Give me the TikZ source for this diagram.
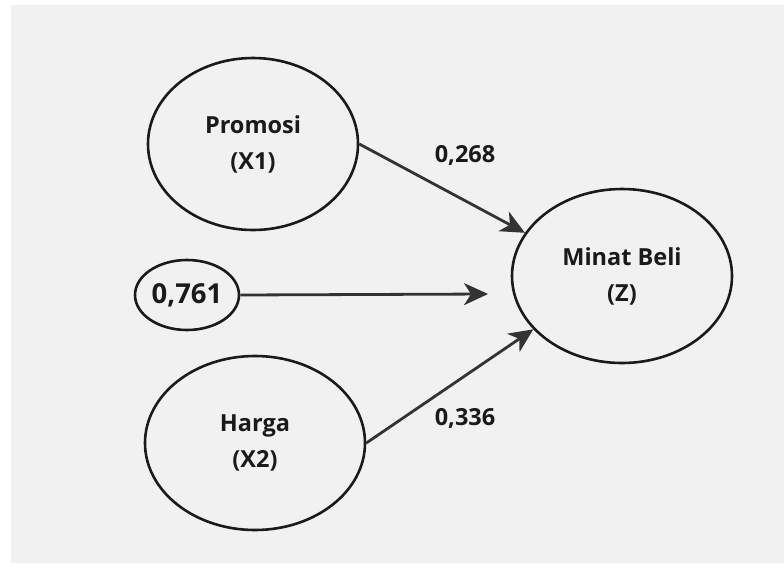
\documentclass[tikz,border=0pt]{standalone}
\usepackage{fontspec}
\setmainfont{Open Sans}
\usetikzlibrary{shapes.geometric,arrows.meta}
\definecolor{bgcolour}{RGB}{241,241,241}
\definecolor{inkcolour}{RGB}{26,26,26}
\definecolor{arrowcolour}{RGB}{51,51,51}
\begin{document}
\begin{tikzpicture}[x=1pt,y=-1pt,
    var/.style={ellipse,draw=inkcolour,line width=2.6pt,inner sep=0pt,
      align=center,text=inkcolour,font=\fontsize{23.5}{36}\selectfont\bfseries},
    path/.style={draw=arrowcolour,line width=2.8pt,
      -{Stealth[length=24pt,width=22pt,inset=7pt]}},
    coef/.style={text=inkcolour,font=\fontsize{23.5}{26}\selectfont\bfseries}]
  \useasboundingbox (0,0) rectangle (784,563);
  \fill[bgcolour] (11,5) rectangle (784,563);
  \node[var,minimum width=210pt,minimum height=172pt] (promosi) at (253,144) {Promosi\\(X1)};
  \node[var,minimum width=104pt,minimum height=70pt,
    font=\fontsize{27.5}{30}\selectfont\bfseries] (err) at (187,295) {0,761};
  \node[var,minimum width=220pt,minimum height=174pt] (harga) at (255,443) {Harga\\(X2)};
  \node[var,minimum width=220pt,minimum height=174pt] (minat) at (622,276) {Minat Beli\\(Z)};
  \coordinate (errtip) at (488,294);
  \draw[path] (promosi.east) -- (minat.156);
  \draw[path] (err.east) -- (errtip);
  \draw[path] (harga.east) -- (minat.211);
  \node[coef] (c1) at (465,155) {0,268};
  \node[coef] (c2) at (465,418) {0,336};
\end{tikzpicture}
\end{document}
